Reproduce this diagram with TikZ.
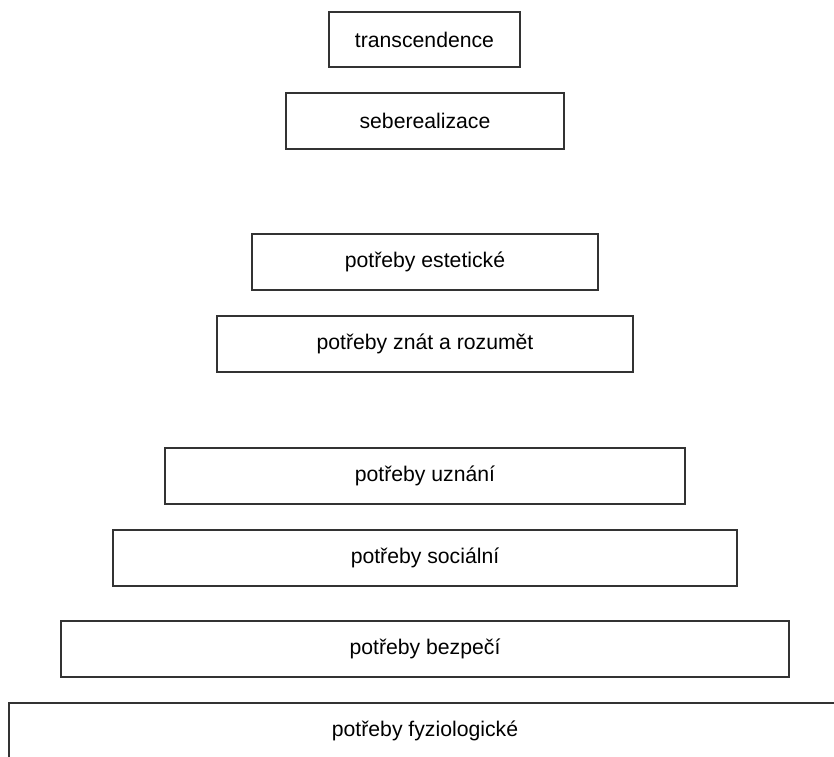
\documentclass[tikz,border=0pt]{standalone}
\usepackage{fontspec}
\setmainfont{Liberation Sans}
\begin{document}
\begin{tikzpicture}[x=1pt,y=-1pt,
  levelbox/.style={draw=black!80,line width=1.2pt,rectangle,inner sep=0pt,
    minimum height=56pt,font=\fontsize{21.2}{25}\selectfont}]
\useasboundingbox (0,0) rectangle (834,756);
\clip (0,0) rectangle (834,756);
\node[levelbox,minimum width=191pt,minimum height=55pt] (t) at (424.5,39.5) {transcendence};
\node[levelbox,minimum width=278pt] (s) at (425,121) {seberealizace};
\node[levelbox,minimum width=346pt] (e) at (425,262) {potřeby estetické};
\node[levelbox,minimum width=416pt] (z) at (425,344) {potřeby znát a rozumět};
\node[levelbox,minimum width=520pt] (u) at (425,476) {potřeby uznání};
\node[levelbox,minimum width=624pt] (so) at (425,558) {potřeby sociální};
\node[levelbox,minimum width=728pt] (b) at (425,649) {potřeby bezpečí};
\node[levelbox,minimum width=832pt] (f) at (425,731) {potřeby fyziologické};
\end{tikzpicture}
\end{document}
